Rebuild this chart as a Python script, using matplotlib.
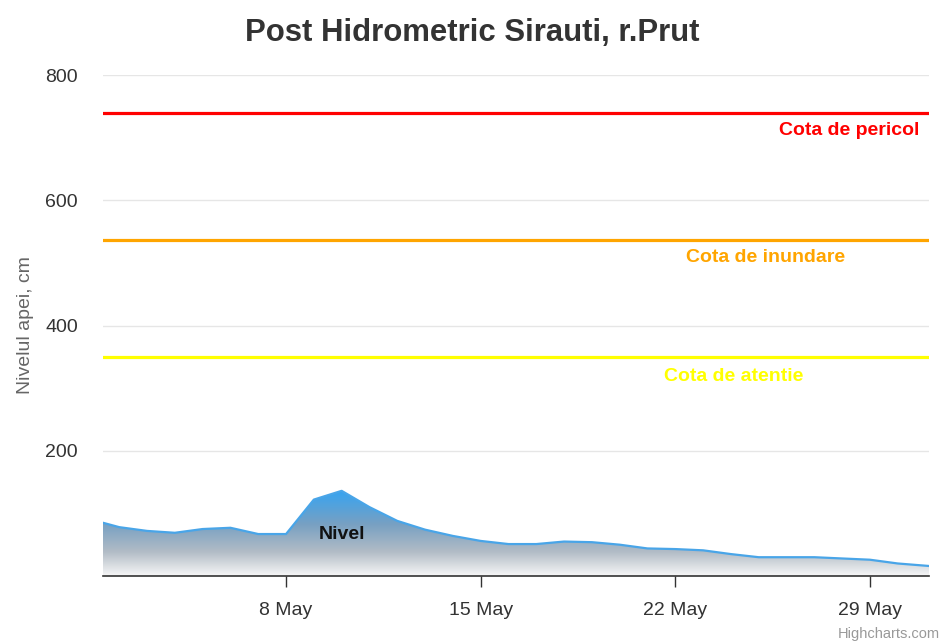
import numpy as np
import matplotlib
matplotlib.use("Agg")
import matplotlib.pyplot as plt
import matplotlib.dates as mdates
from matplotlib.colors import LinearSegmentedColormap

plt.rcParams["font.family"] = ["Liberation Sans", "DejaVu Sans"]

TITLE = "Post Hidrometric Sirauti, r.Prut"
Y_LABEL = "Nivelul apei, cm"

# daily water level readings, May
DATES = np.array([
    "2019-05-01T10:00", "2019-05-02", "2019-05-03", "2019-05-04", "2019-05-05",
    "2019-05-06", "2019-05-07", "2019-05-08", "2019-05-09", "2019-05-10",
    "2019-05-11", "2019-05-12", "2019-05-13", "2019-05-14", "2019-05-15",
    "2019-05-16", "2019-05-17", "2019-05-18", "2019-05-19", "2019-05-20",
    "2019-05-21", "2019-05-22", "2019-05-23", "2019-05-24", "2019-05-25",
    "2019-05-26", "2019-05-27", "2019-05-28", "2019-05-29", "2019-05-30",
    "2019-05-31T03:00"], dtype="datetime64[m]")
LEVEL = np.array([85, 78, 72, 69, 75, 77, 67, 67, 122, 136,
                  110, 88, 74, 64, 56, 51, 51, 55, 54, 50,
                  44, 43, 41, 35, 30, 30, 30, 28, 26, 20, 16])

# threshold lines
THRESH_NAMES = ["Cota de pericol", "Cota de inundare", "Cota de atentie"]
THRESH_VALUES = [740, 536, 350]
THRESH_COLORS = ["#ff0000", "#ffa500", "#ffff00"]

Y_TICKS = [200, 400, 600, 800]


def main():
    fig = plt.figure(figsize=(9.44, 6.42), dpi=100)
    ax = fig.add_axes([103 / 944, 1 - 576 / 642, 826 / 944, 501 / 642])

    x = mdates.date2num(DATES.astype("datetime64[s]").astype(object))

    # gradient area
    poly = ax.fill_between(x, 0, LEVEL, facecolor="none", edgecolor="none")
    cmap = LinearSegmentedColormap.from_list(
        "nivel", [(0.0, "#f7f7f7"), (0.28, "#b2bcc6"), (0.6, "#78a0c2"), (1.0, "#35a4f2")])
    grad = np.linspace(0, 1, 256).reshape(-1, 1)
    img = ax.imshow(grad, cmap=cmap, origin="lower", aspect="auto",
                    extent=[x[0], x[-1], 0, LEVEL.max()], zorder=2)
    img.set_clip_path(poly.get_paths()[0], transform=ax.transData)
    ax.plot(x, LEVEL, color="#49a5e8", lw=1.6, zorder=3)
    ax.set_xlim(x[0], x[-1])
    ax.set_ylim(0, 800)

    ax.text(mdates.date2num(np.datetime64("2019-05-10T00:00").astype(object)), 67, "Nivel",
            fontsize=14, fontweight="bold", color="#111111", ha="center", va="center", zorder=4)

    # threshold lines with labels
    label_pos = [("right", 0.988, -13), ("center", 0.802, -12.5), ("center", 0.763, -14)]
    for name, val, col, (ha, xf, dy) in zip(THRESH_NAMES, THRESH_VALUES, THRESH_COLORS, label_pos):
        ax.axhline(val, color=col, lw=2.3, zorder=3)
        ax.annotate(name, xy=(xf, val), xycoords=("axes fraction", "data"),
                    xytext=(0, dy), textcoords="offset points",
                    ha=ha, va="center", fontsize=14, fontweight="bold", color=col)

    # grid
    ax.set_yticks(Y_TICKS)
    ax.yaxis.grid(True, color="#e6e6e6", lw=1)
    ax.set_axisbelow(True)
    ax.tick_params(axis="y", length=0, labelsize=14, labelcolor="#333333", pad=18)

    ax.xaxis.set_major_locator(mdates.DayLocator(bymonthday=[8, 15, 22, 29]))
    ax.xaxis.set_major_formatter(mdates.DateFormatter("%-d %b"))
    ax.tick_params(axis="x", length=8, width=1, color="#333333",
                   labelsize=14, labelcolor="#333333", pad=11)

    for s in ["top", "right", "left"]:
        ax.spines[s].set_visible(False)
    ax.spines["bottom"].set_color("#333333")
    ax.spines["bottom"].set_linewidth(1.2)

    ax.set_ylabel(Y_LABEL, fontsize=14, color="#666666", labelpad=8)
    fig.text(0.5, 1 - 33 / 642, TITLE, ha="center", va="center",
             fontsize=22.4, fontweight="bold", color="#333333")
    fig.text(940 / 944, 1 - 634 / 642, "Highcharts.com", ha="right", va="center",
             fontsize=10.5, color="#999999")

    fig.savefig("out.png", dpi=100)


if __name__ == "__main__":
    main()
